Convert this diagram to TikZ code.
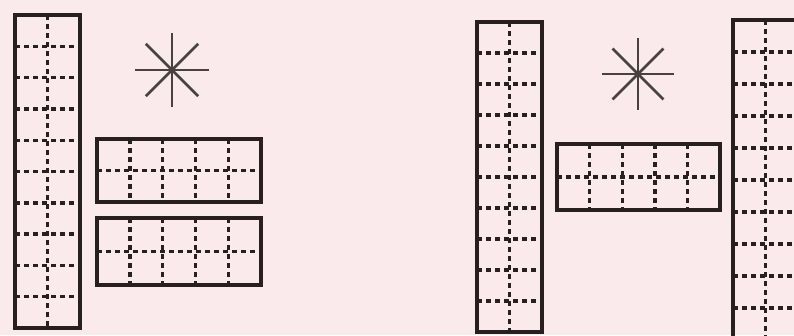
\documentclass[tikz,border=0pt]{standalone}
\definecolor{paper}{RGB}{250,234,236}
\definecolor{ink}{RGB}{40,32,32}
\tikzset{
  frame/.style={draw=ink, line width=4pt, line join=miter},
  guide/.style={draw=ink, line width=3.4pt, dash pattern=on 5pt off 4pt},
  starline/.style={draw=ink!85, line width=2.8pt},
}
\newcommand{\vstrip}[4]{% x0, y0, x1, y1  (10 half cells)
  \pgfmathsetmacro{\stepy}{(#4-#2)/10}
  \draw[guide] ({(#1+#3)/2},#2) -- ({(#1+#3)/2},#4);
  \foreach \k in {1,...,9} {\draw[guide] (#1,{#2+\k*\stepy}) -- (#3,{#2+\k*\stepy});}
  \draw[frame] (#1,#2) rectangle (#3,#4);
}
\newcommand{\hstrip}[4]{% x0, y0, x1, y1 (5 half cells)
  \pgfmathsetmacro{\stepx}{(#3-#1)/5}
  \draw[guide] (#1,{(#2+#4)/2}) -- (#3,{(#2+#4)/2});
  \foreach \k in {1,...,4} {\draw[guide] ({#1+\k*\stepx},#2) -- ({#1+\k*\stepx},#4);}
  \draw[frame] (#1,#2) rectangle (#3,#4);
}
\newcommand{\asterisk}[3]{% cx, cy, r
  \foreach \a in {0,45,90,135} {\draw[starline] ({#1+#3*cos(\a)},{#2+#3*sin(\a)}) -- ({#1-#3*cos(\a)},{#2-#3*sin(\a)});}
}
\begin{document}
\begin{tikzpicture}[x=1pt,y=-1pt]
  \fill[paper] (0,0) rectangle (794,335);
  \useasboundingbox (0,0) rectangle (794,335);
  \clip (0,0) rectangle (794,335);
  % left group
  \vstrip{15}{15}{80}{328}
  \asterisk{172}{70}{37}
  \hstrip{97}{139}{261}{202}
  \hstrip{97}{218}{261}{285}
  % right group
  \vstrip{477}{22}{542}{332}
  \asterisk{638}{74}{36}
  \hstrip{557}{144}{720}{210}
  \vstrip{733}{20}{798}{340}
\end{tikzpicture}
\end{document}
